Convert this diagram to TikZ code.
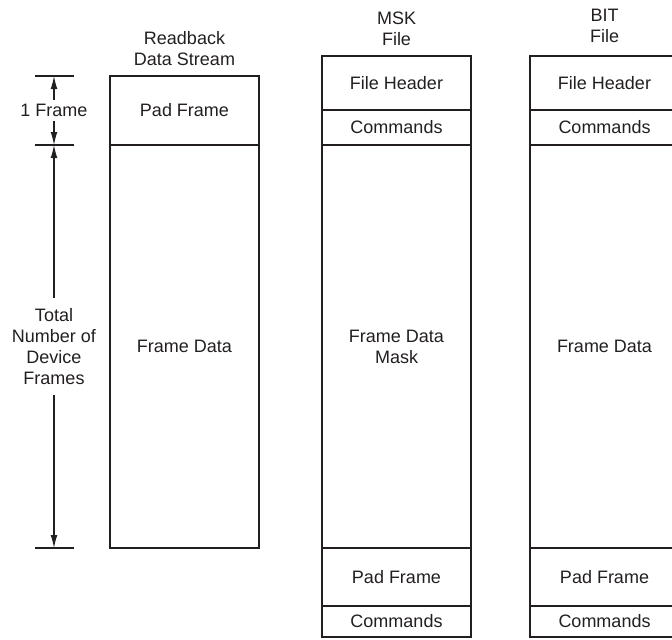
\documentclass[tikz,border=0pt]{standalone}
\usepackage{fontspec}
\setmainfont{Liberation Sans}
\usetikzlibrary{arrows.meta,positioning,calc}
\definecolor{ink}{HTML}{231F20}

\begin{document}
\begin{tikzpicture}[
    font=\fontsize{9}{10.6}\selectfont,
    every node/.style={text=ink},
    field/.style={draw=ink, line width=1.1pt, align=center, outer sep=0pt, inner sep=0pt, minimum width=74.5pt},
    coltitle/.style={align=center, inner sep=0pt},
    tick/.style={draw=ink, line width=0.6pt},
    dim/.style={-{Latex[length=6.5pt,width=3.4pt]}, draw=ink, line width=0.55pt}
  ]
  \useasboundingbox (0,0) rectangle (336pt,-319.5pt);

  % readback data stream
  \node[field, anchor=north west, minimum height=34.5pt] (rpad) at (55pt,-38pt) {Pad Frame};
  \node[field, below=0pt of rpad, minimum height=201.5pt] (rdata) {Frame Data};
  \node[coltitle, above=4.8pt of rpad] (rtitle) {Readback\\Data Stream};

  % MSK file
  \node[field, anchor=north west, minimum height=27pt] (mhead) at (161pt,-28pt) {File Header};
  \node[field, below=0pt of mhead, minimum height=17.5pt] (mcmd) {Commands};
  \node[field, below=0pt of mcmd, minimum height=201.5pt] (mmask) {Frame Data\\Mask};
  \node[field, below=0pt of mmask, minimum height=29pt] (mpad) {Pad Frame};
  \node[field, below=0pt of mpad, minimum height=15.5pt] (mcmdb) {Commands};
  \node[coltitle, above=4.8pt of mhead] (mtitle) {MSK\\File};

  % BIT file
  \node[field, anchor=north west, minimum height=27pt] (bhead) at (265pt,-28pt) {File Header};
  \node[field, below=0pt of bhead, minimum height=17.5pt] (bcmd) {Commands};
  \node[field, below=0pt of bcmd, minimum height=201.5pt] (bdata) {Frame Data};
  \node[field, below=0pt of bdata, minimum height=29pt] (bpad) {Pad Frame};
  \node[field, below=0pt of bpad, minimum height=15.5pt] (bcmdb) {Commands};
  \node[coltitle, above=6.3pt of bhead] (btitle) {BIT\\File};

  % frame count dimensions
  \coordinate (d1) at ([xshift=-28pt]rpad.north west);
  \coordinate (d2) at ([xshift=-28pt]rdata.north west);
  \coordinate (d3) at ([xshift=-28pt]rdata.south west);
  \foreach \d in {d1,d2,d3}
    \draw[tick] ([xshift=-9.75pt]\d) -- ([xshift=9.75pt]\d);
  \node[inner sep=2pt] (oneframe) at ($(d1)!0.5!(d2)$) {1 Frame};
  \node[align=center, inner sep=5pt] (totalfr) at ($(d2)!0.5!(d3)$) {Total\\Number of\\Device\\Frames};
  \draw[dim] (oneframe) -- (d1);
  \draw[dim] (oneframe) -- (d2);
  \draw[dim] (totalfr) -- (d2);
  \draw[dim] (totalfr) -- (d3);
\end{tikzpicture}
\end{document}
